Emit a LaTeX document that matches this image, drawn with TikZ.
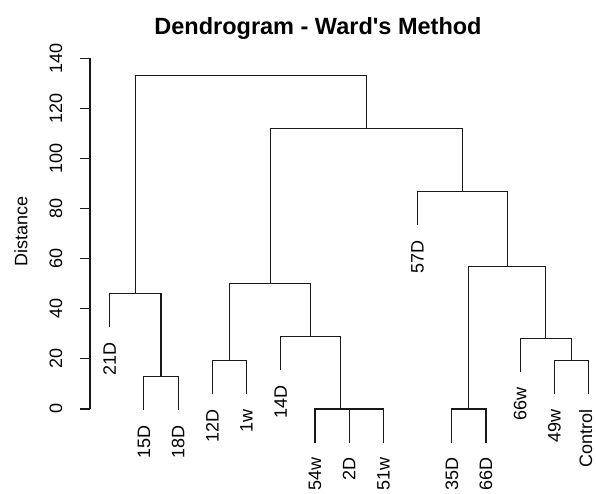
\documentclass[tikz,border=0pt]{standalone}
\usepackage{fontspec}
\setmainfont{Liberation Sans}
\usepackage{tikz}
\usetikzlibrary{positioning, calc}

\begin{document}
\begin{tikzpicture}[x=1pt, y=2.505pt,
		branch/.style={
			draw=black!90,
			line width=1.1pt,
		}, leaflabel/.style={
			rotate=90,
			anchor=east,
			inner sep=0pt,
			font=\fontsize{18}{20}\selectfont,
		}, ticklabel/.style={
			rotate=90,
			anchor=center,
			inner sep=0pt,
			font=\fontsize{18}{20}\selectfont,
		}, ]

\useasboundingbox (0,-33.93) rectangle (596,163.27);

% ------ Title ------- %
\node[anchor=base, font=\bfseries\fontsize{23.5}{26}\selectfont] (title) at (318,149.3) {Dendrogram - Ward\textquotesingle s Method};

% ------ Axis ------- %
\coordinate (axis_bottom) at (90,0);
\coordinate (axis_top) at (90,140);
\draw[branch] (axis_bottom) -- (axis_top);
\foreach \v in {0,20,...,140}{
	\coordinate (tick_\v) at (90,\v);
	\draw[branch] (tick_\v) -- ++(-10,0);
	\node[ticklabel] (ticklabel_\v) at (56,\v) {\v};
}
\node[rotate=90, font=\fontsize{18}{20}\selectfont] (ylabel) at (21,70.8) {Distance};

% ------ Leaves ------- %
\coordinate (l21D) at (109.7, 32.8);
\coordinate (l15D) at (143.9, -0.5);
\coordinate (l18D) at (178.1, -0.5);
\coordinate (l12D) at (212.3, 5.8);
\coordinate (l1w) at (246.5, 5.8);
\coordinate (l14D) at (280.8, 15.6);
\coordinate (l54w) at (315.0, -13.4);
\coordinate (l2D) at (349.2, -13.4);
\coordinate (l51w) at (383.4, -13.4);
\coordinate (l57D) at (417.6, 73.4);
\coordinate (l35D) at (451.8, -13.4);
\coordinate (l66D) at (486.0, -13.4);
\coordinate (l66w) at (520.2, 14.8);
\coordinate (l49w) at (554.4, 5.8);
\coordinate (lControl) at (588.2, 5.8);

% ------ Merges ------- %
\coordinate (m15D18D) at (161.0, 12.9);
\coordinate (m21D) at (135.35, 46.2);
\coordinate (m12D1w) at (229.4, 19.2);
\coordinate (m2D51w) at (366.3, 0);
\coordinate (m54w) at (340.65, 0);
\coordinate (m14D) at (310.7, 29);
\coordinate (m12D14D) at (270.05, 50);
\coordinate (m35D66D) at (468.9, 0);
\coordinate (m49wControl) at (571.3, 19.2);
\coordinate (m66w) at (545.75, 28.2);
\coordinate (m35D66w) at (507.3, 56.8);
\coordinate (m57D) at (462.5, 86.8);
\coordinate (m12D57D) at (366.3, 112);
\coordinate (m_root) at (250.8, 133.3);

\draw[branch] (l15D) |- (m15D18D) -| (l18D);
\draw[branch] (l21D) |- (m21D) -| (m15D18D);
\draw[branch] (l12D) |- (m12D1w) -| (l1w);
\draw[branch] (l2D) |- (m2D51w) -| (l51w);
\draw[branch] (l54w) |- (m54w) -| (m2D51w);
\draw[branch] (l14D) |- (m14D) -| (m54w);
\draw[branch] (m12D1w) |- (m12D14D) -| (m14D);
\draw[branch] (l35D) |- (m35D66D) -| (l66D);
\draw[branch] (l49w) |- (m49wControl) -| (lControl);
\draw[branch] (l66w) |- (m66w) -| (m49wControl);
\draw[branch] (m35D66D) |- (m35D66w) -| (m66w);
\draw[branch] (l57D) |- (m57D) -| (m35D66w);
\draw[branch] (m12D14D) |- (m12D57D) -| (m57D);
\draw[branch] (m21D) |- (m_root) -| (m12D57D);

% ------ Leaf labels ------- %
\node[leaflabel] (t21D) at ([yshift=-15pt]l21D) {21D};
\node[leaflabel] (t15D) at ([yshift=-15pt]l15D) {15D};
\node[leaflabel] (t18D) at ([yshift=-15pt]l18D) {18D};
\node[leaflabel] (t12D) at ([yshift=-15pt]l12D) {12D};
\node[leaflabel] (t1w) at ([yshift=-15pt]l1w) {1w};
\node[leaflabel] (t14D) at ([yshift=-15pt]l14D) {14D};
\node[leaflabel] (t54w) at ([yshift=-15pt]l54w) {54w};
\node[leaflabel] (t2D) at ([yshift=-15pt]l2D) {2D};
\node[leaflabel] (t51w) at ([yshift=-15pt]l51w) {51w};
\node[leaflabel] (t57D) at ([yshift=-15pt]l57D) {57D};
\node[leaflabel] (t35D) at ([yshift=-15pt]l35D) {35D};
\node[leaflabel] (t66D) at ([yshift=-15pt]l66D) {66D};
\node[leaflabel] (t66w) at ([yshift=-15pt]l66w) {66w};
\node[leaflabel] (t49w) at ([yshift=-15pt]l49w) {49w};
\node[leaflabel] (tControl) at ([xshift=-2.5pt, yshift=-15pt]lControl) {Control};

\end{tikzpicture}
\end{document}
